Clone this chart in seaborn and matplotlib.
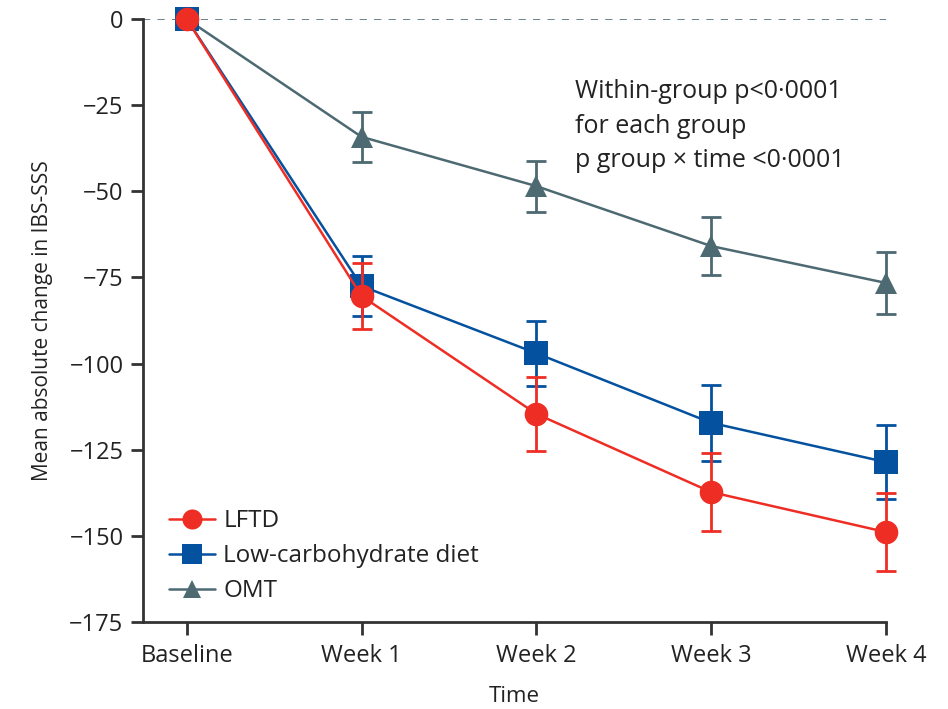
import numpy as np
import pandas as pd
import matplotlib
matplotlib.use("Agg")
import matplotlib.pyplot as plt
import seaborn as sns
from matplotlib.lines import Line2D

# Mean absolute change in IBS-SSS per visit, with error bar half-widths
timepoints = ["Baseline", "Week 1", "Week 2", "Week 3", "Week 4"]
groups = ["LFTD", "Low-carbohydrate diet", "OMT"]
lftd_mean = [0, -80.4, -114.6, -137.3, -148.9]
lftd_err = [0, 9.5, 10.7, 11.3, 11.3]
lowcarb_mean = [0, -77.5, -97.0, -117.2, -128.6]
lowcarb_err = [0, 8.6, 9.5, 11.0, 10.8]
omt_mean = [0, -34.2, -48.5, -65.9, -76.6]
omt_err = [0, 7.3, 7.4, 8.3, 9.0]

yticks = [0, -25, -50, -75, -100, -125, -150, -175]

sns.set_theme(style="white")
plt.rcParams["font.family"] = ["Open Sans", "DejaVu Sans"]

colors = {"LFTD": "#ee2e24", "Low-carbohydrate diet": "#0451a0", "OMT": "#4d6972"}
markers = {"LFTD": "o", "Low-carbohydrate diet": "s", "OMT": "^"}
msize = {"LFTD": 17, "Low-carbohydrate diet": 17, "OMT": 16}

means = {"LFTD": lftd_mean, "Low-carbohydrate diet": lowcarb_mean, "OMT": omt_mean}
errs = {"LFTD": lftd_err, "Low-carbohydrate diet": lowcarb_err, "OMT": omt_err}

rows = []
for g in groups:
    for i, t in enumerate(timepoints):
        rows.append({"group": g, "t": i, "time": t, "mean": means[g][i], "err": errs[g][i]})
df = pd.DataFrame(rows)

fig = plt.figure(figsize=(9.48, 7.09), dpi=100)
ax = fig.add_axes([143 / 948, 1 - 622 / 709, (886 - 143) / 948, (622 - 19) / 709])

# reference line at zero
ax.axhline(0, color="#5d7a83", lw=1.3, ls=(0, (4, 4)), zorder=1)

draw_order = ["OMT", "Low-carbohydrate diet", "LFTD"]
for k, g in enumerate(draw_order):
    sub = df[df["group"] == g]
    ax.errorbar(sub["t"], sub["mean"], yerr=sub["err"], fmt="none",
                ecolor=colors[g], elinewidth=2, capsize=7, capthick=2,
                zorder=3 + 2 * k, clip_on=False)
    sns.lineplot(data=sub, x="t", y="mean", ax=ax, color=colors[g],
                 marker=markers[g], markersize=msize[g], markeredgewidth=0,
                 linewidth=1.8, legend=False, errorbar=None,
                 zorder=4 + 2 * k, clip_on=False)

ax.set_xlim(-0.25, 4)
ax.set_ylim(-175, 0)
ax.set_xticks(range(len(timepoints)))
ax.set_xticklabels(timepoints)
ax.set_yticks(yticks)
ax.set_yticklabels([str(v).replace("-", "\u2212") for v in yticks])
ax.set_xlabel("Time", fontsize=16, color="#222222", labelpad=13)
ax.set_ylabel("Mean absolute change in IBS-SSS", fontsize=15, color="#222222", labelpad=12)

for side in ["top", "right"]:
    ax.spines[side].set_visible(False)
for side in ["left", "bottom"]:
    ax.spines[side].set_color("#333333")
    ax.spines[side].set_linewidth(2)
ax.tick_params(axis="both", direction="out", length=9, width=2, color="#333333",
               labelsize=17, labelcolor="#222222", left=True, bottom=True, pad=5)
ax.tick_params(axis="x", pad=7)

handles = [Line2D([0], [0], color=colors[g], marker=markers[g], markersize=msize[g] * 0.85,
                  markeredgewidth=0, linewidth=1.8) for g in groups]
ax.legend(handles, groups, loc="lower left", bbox_to_anchor=(0.005, -0.005), frameon=False,
          fontsize=17.5, handlelength=1.9, handletextpad=0.35, labelspacing=0.45,
          labelcolor="#222222")

ax.text(0.581, 0.9, "Within-group p<0\u00b70001\nfor each group\np group \u00d7 time <0\u00b70001",
        transform=ax.transAxes, fontsize=18, color="#222222", va="top", ha="left",
        linespacing=1.5)

fig.savefig("out.png", dpi=100)
